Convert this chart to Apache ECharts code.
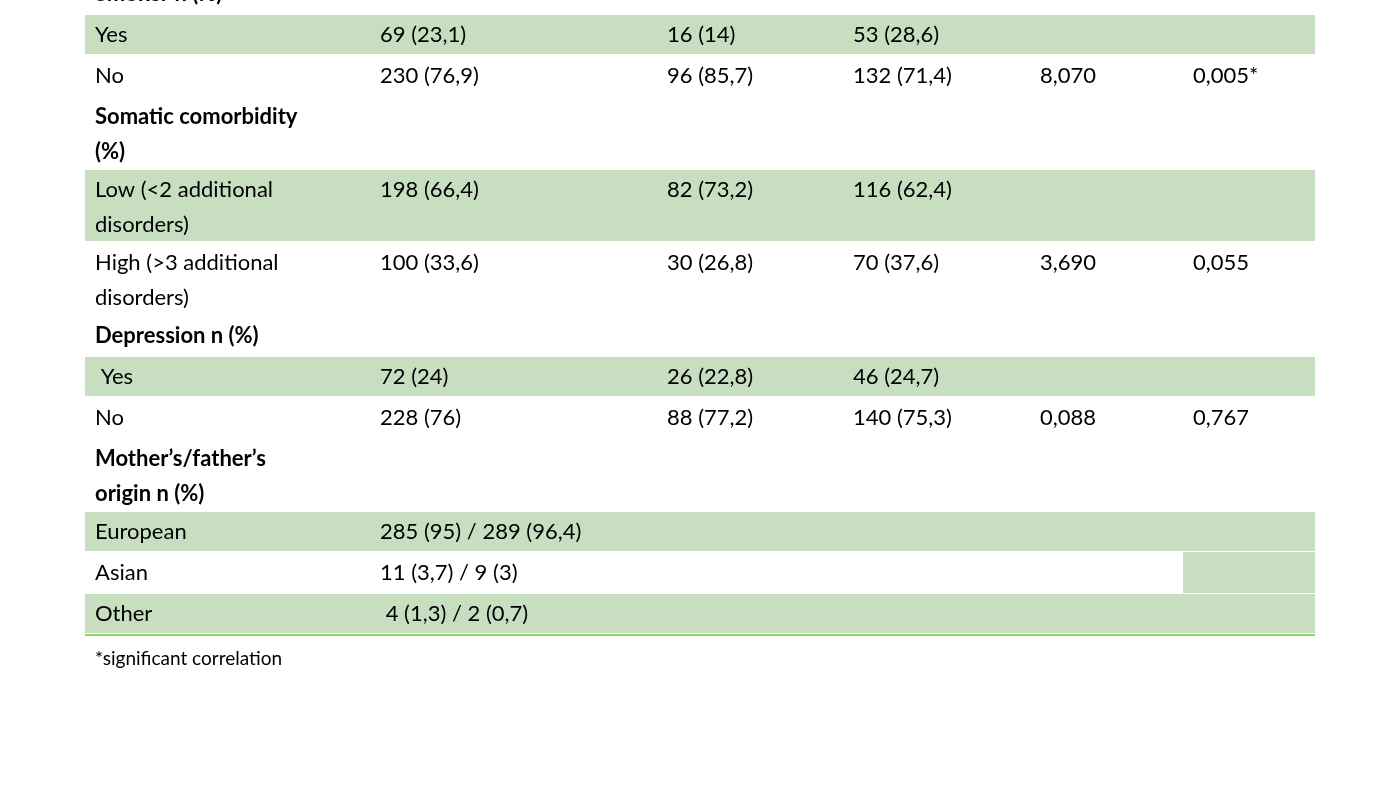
<!DOCTYPE html>
<html><head><meta charset="utf-8">
<script src="https://cdn.jsdelivr.net/npm/echarts@6/dist/echarts.min.js"></script>
<style>html,body{margin:0;padding:0;background:#fff}#c{width:1400px;height:786px}</style>
</head><body><div id="c"></div>
<script>
// Table content
const rowLabels = [["Smoker n (%)"],["Yes"],["No"],["Somatic comorbidity","(%)"],["Low (<2 additional","disorders)"],["High (>3 additional","disorders)"],["Depression n (%)"],[" Yes"],["No"],["Mother’s/father’s","origin n (%)"],["European"],["Asian"],["Other"]];
const rowBold = [1,0,0,1,0,0,1,0,0,1,0,0,0];
const rowFill = ["none","full","none","none","full","none","none","full","none","none","full","end","full"];
const col1 = ["","69 (23,1)","230 (76,9)","","198 (66,4)","100 (33,6)","","72 (24)","228 (76)","","285 (95) / 289 (96,4)","11 (3,7) / 9 (3)"," 4 (1,3) / 2 (0,7)"];
const col2 = ["","16 (14)","96 (85,7)","","82 (73,2)","30 (26,8)","","26 (22,8)","88 (77,2)","","","",""];
const col3 = ["","53 (28,6)","132 (71,4)","","116 (62,4)","70 (37,6)","","46 (24,7)","140 (75,3)","","","",""];
const col4 = ["","","8,070","","","3,690","","","0,088","","","",""];
const col5 = ["","","0,005*","","","0,055","","","0,767","","","",""];
const footnote = "*significant correlation";

const colX = [95,380,667,853,1040,1193];
const left = 85, right = 1315, green = "#c7dfc0";
const font = '"Lato","Open Sans",sans-serif';
const els = [];
let y = -27;
rowLabels.forEach((lab, i) => {
  const h = lab.length === 2 ? 73 : 41;
  if (rowFill[i] === "full") els.push({type:'rect',shape:{x:left,y:y+1,width:right-left,height:h-2},style:{fill:green}});
  if (rowFill[i] === "end") els.push({type:'rect',shape:{x:1183,y:y,width:right-1183,height:h},style:{fill:green}});
  lab.forEach((t, k) => els.push({type:'text',x:colX[0],y:y+21+k*35,style:{text:t,font:(rowBold[i]?'bold ':'')+'22px '+font,fill:'#000',verticalAlign:'middle'}}));
  [col1,col2,col3,col4,col5].forEach((c, j) => {
    if (c[i]) els.push({type:'text',x:colX[j+1],y:y+21,style:{text:c[i],font:'22px '+font,fill:'#000',verticalAlign:'middle'}});
  });
  y += h;
});
els.push({type:'rect',shape:{x:left,y:y,width:right-left,height:2},style:{fill:'#8fd16a'}});
els.push({type:'text',x:colX[0],y:y+25,style:{text:footnote,font:'19px '+font,fill:'#000',verticalAlign:'middle'}});
const chart = echarts.init(document.getElementById('c'));
chart.setOption({animation:false,graphic:{elements:els}});
</script></body></html>
